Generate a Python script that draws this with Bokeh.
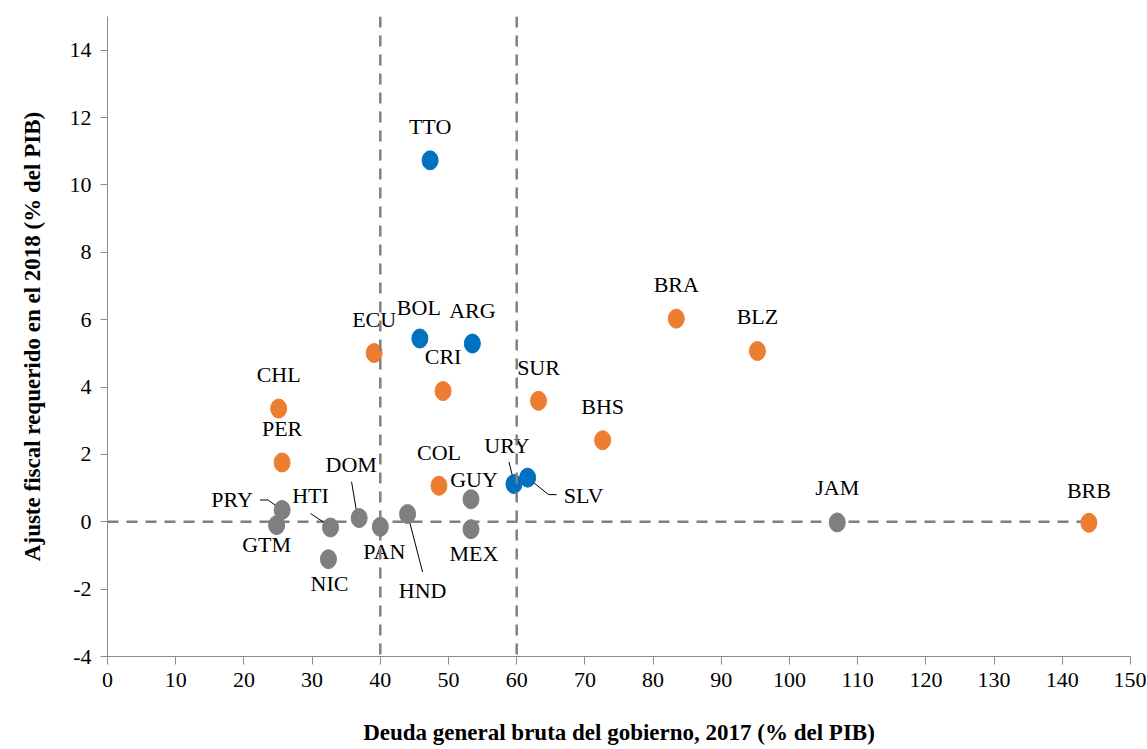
from bokeh.plotting import figure
from bokeh.models import ColumnDataSource, Range1d, FixedTicker, Span
from bokeh.core.properties import value
from bokeh.embed import file_html
from bokeh.resources import INLINE

# ---------------- data ----------------
countries = ["TTO", "BOL", "ARG", "URY", "SLV",
             "ECU", "CRI", "CHL", "PER", "SUR", "BRA", "BLZ", "BHS", "COL", "BRB",
             "JAM", "PRY", "GTM", "HTI", "NIC", "DOM", "PAN", "HND", "GUY", "MEX"]
debt_2017 = [47.3, 45.8, 53.5, 59.6, 61.6,
             39.1, 49.2, 25.1, 25.6, 63.2, 83.4, 95.3, 72.6, 48.6, 143.9,
             107.0, 25.6, 24.8, 32.7, 32.4, 36.9, 40.0, 44.0, 53.3, 53.3]
adjust_2018 = [10.73, 5.44, 5.29, 1.12, 1.31,
               5.01, 3.88, 3.36, 1.76, 3.59, 6.03, 5.07, 2.42, 1.07, -0.03,
               -0.02, 0.35, -0.10, -0.17, -1.11, 0.11, -0.15, 0.23, 0.67, -0.22]
groups = ["blue"] * 5 + ["orange"] * 10 + ["gray"] * 10

x_ticks = list(range(0, 151, 10))
y_ticks = list(range(-4, 15, 2))
thresholds_x = [40, 60]

# ---------------- styles ----------------
COLORS = {"blue": "#0070C0", "orange": "#ED7D31", "gray": "#7F7F7F"}
FONT = "'Liberation Serif', 'Times New Roman', serif"

# label offsets in screen pixels (positive = down)
LABEL_OFFSETS = {
    "TTO": (0, -34), "BOL": (-1, -31), "ARG": (0, -33), "URY": (-7, -39), "SLV": (56, 18),
    "ECU": (0, -34), "CRI": (0, -35), "CHL": (0, -34), "PER": (0, -34), "SUR": (0, -33),
    "BRA": (0, -34), "BLZ": (0, -34), "BHS": (0, -34), "COL": (0, -33), "BRB": (0, -32),
    "JAM": (0, -35), "PRY": (-50, -10), "GTM": (-10, 19), "HTI": (-20, -32), "NIC": (1, 24),
    "DOM": (-8, -54), "PAN": (4, 25), "HND": (15, 76), "GUY": (3, -20), "MEX": (3, 24),
}
# leader lines, pixel offsets from the point
LEADERS = {
    "PRY": [(-22, -10), (-14, -10), (-3, -2)],
    "HTI": [(-20, -14), (-5, -4)],
    "DOM": [(-7.6, -36.3), (-1.6, -0.6)],
    "HND": [(0, 0), (15, 58)],
    "URY": [(-5, -22), (0, -2)],
    "SLV": [(1, 1), (21, 17), (29, 17)],
}

W, H = 1146, 748
BL, BR, BT, BB = 107, 16, 16, 92
FW, FH = W - BL - BR, H - BT - BB
X0, X1, Y0, Y1 = 0, 150, -4, 15

p = figure(width=W, height=H, output_backend="svg", toolbar_location=None,
           x_range=Range1d(X0, X1), y_range=Range1d(Y0, Y1),
           min_border_left=BL, min_border_right=BR, min_border_top=BT, min_border_bottom=BB)
p.outline_line_color = None
p.xgrid.visible = False
p.ygrid.visible = False
p.background_fill_color = "white"
p.border_fill_color = "white"

# reference lines
for xv in thresholds_x:
    p.add_layout(Span(location=xv, dimension="height", line_color="#808080",
                      line_width=2.5, line_dash="11 8"))
p.line(x=[0, max(debt_2017)], y=[0, 0], line_color="#808080", line_width=2.5, line_dash="11 8")

# leader lines
sx = (X1 - X0) / FW
sy = (Y1 - Y0) / FH
lxs, lys = [], []
for c, pts in LEADERS.items():
    i = countries.index(c)
    lxs.append([debt_2017[i] + dx * sx for dx, dy in pts])
    lys.append([adjust_2018[i] - dy * sy for dx, dy in pts])
p.multi_line(xs=lxs, ys=lys, line_color="black", line_width=1)

src = ColumnDataSource(dict(
    x=debt_2017, y=adjust_2018, label=countries,
    color=[COLORS[g] for g in groups],
    dx=[LABEL_OFFSETS[c][0] for c in countries],
    dy=[LABEL_OFFSETS[c][1] for c in countries],
))

p.ellipse(x="x", y="y", width=16, height=19, width_units="screen", height_units="screen",
          fill_color="color", line_color="color", source=src)

p.text(x="x", y="y", text="label", x_offset="dx", y_offset="dy", source=src,
       text_font=value(FONT), text_font_size="22px", text_color="black",
       text_align="center", text_baseline="middle")

# axes
for ax in (p.xaxis[0], p.yaxis[0]):
    ax.axis_line_color = "#8c8c8c"
    ax.major_tick_line_color = "#8c8c8c"
    ax.minor_tick_line_color = None
    ax.major_tick_in = 0
    ax.major_label_text_font = FONT
    ax.major_label_text_font_size = "22px"
    ax.major_label_text_color = "black"
    ax.axis_label_text_font = FONT
    ax.axis_label_text_font_style = "bold"
    ax.axis_label_text_font_size = "23px"
    ax.axis_label_text_color = "black"

p.xaxis.ticker = FixedTicker(ticks=x_ticks)
p.yaxis.ticker = FixedTicker(ticks=y_ticks)
p.yaxis.major_label_overrides = {t: str(t).replace("\u2212", "-") for t in y_ticks}
p.xaxis.major_tick_out = 8
p.yaxis.major_tick_out = 7
p.xaxis.major_label_standoff = 8
p.yaxis.major_label_standoff = 9
p.xaxis.axis_label = "Deuda general bruta del gobierno, 2017 (% del PIB)"
p.yaxis.axis_label = "Ajuste fiscal requerido en el 2018 (% del PIB)"
p.xaxis.axis_label_standoff = 30
p.yaxis.axis_label_standoff = 22

open("out.html", "w").write(file_html(p, INLINE))
